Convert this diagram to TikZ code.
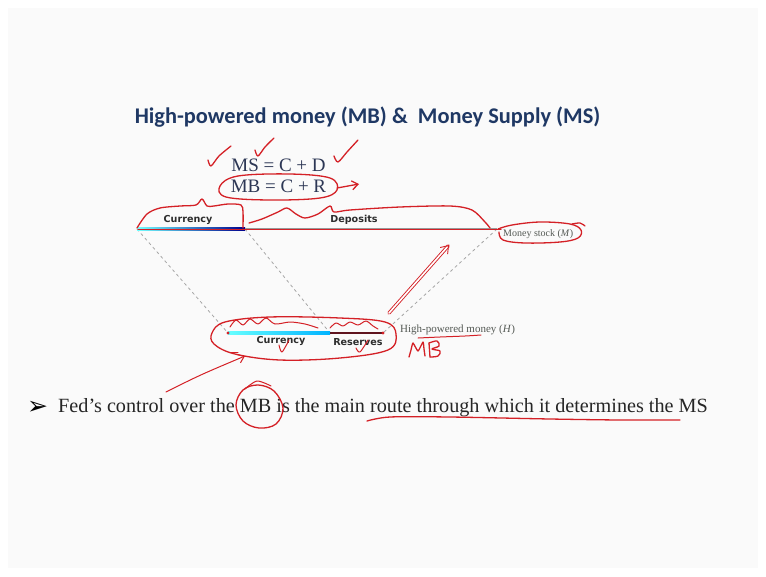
\documentclass[tikz,border=0pt]{standalone}
\usepackage{fontspec}
\setmainfont{Liberation Serif}
\newfontfamily\titlefont{Carlito}
\newfontfamily\labfont{DejaVu Sans}
\newfontfamily\symfont{DejaVu Sans}
\usetikzlibrary{arrows.meta}
\definecolor{titleblue}{RGB}{31,56,100}
\definecolor{eqcol}{RGB}{45,55,85}
\definecolor{pen}{RGB}{212,32,38}
\definecolor{labgray}{RGB}{45,45,45}
\definecolor{smallgray}{RGB}{85,90,85}
\definecolor{resbar}{RGB}{95,20,30}
\begin{document}
\begin{tikzpicture}[x=1pt,y=-1pt,
  ink/.style={draw=pen,line width=1.3pt,line cap=round,line join=round},
  barb/.style={-{Straight Barb[length=6pt,width=9pt]}},
  guide/.style={draw=black!35,line width=0.8pt,dash pattern=on 3pt off 3pt},
  barlab/.style={font=\labfont\bfseries\fontsize{9.6}{10}\selectfont,text=labgray,inner sep=1pt},
  smalllab/.style={font=\fontsize{10}{11}\selectfont,text=smallgray,inner sep=1pt,anchor=west},
  eq/.style={font=\fontsize{19}{21}\selectfont,text=eqcol,inner sep=1pt}]
\useasboundingbox (0,0) rectangle (766,576);
\fill[white] (0,0) rectangle (766,576);
\fill[black!2] (8,8) rectangle (758,568);

% title
\node[font=\titlefont\bfseries\fontsize{22.4}{26}\selectfont,text=titleblue] (title) at (367.5,117) {High-powered money (MB) \&\ \ Money Supply (MS)};

% equations
\node[eq] (ms) at (278.5,165) {MS = C + D};
\node[eq] (mb) at (278.5,186) {MB = C + R};

% coordinates of bars
\coordinate (tL) at (137,229);
\coordinate (tM) at (245,229);
\coordinate (tR) at (497,229);
\coordinate (bL) at (228,333);
\coordinate (bM) at (330,333);
\coordinate (bR) at (383,333);

% dashed guides
\draw[guide] (tL) -- (bL);
\draw[guide] (tM) -- (bM);
\draw[guide] (tR) -- (bR);

% top bar
\shade[left color=cyan!55,right color=blue!55!black] (137,227.8) rectangle (245,230.3);
\fill[black!40] (245,227.8) rectangle (497,230.3);
% bottom bar
\shade[left color=cyan!60,right color=cyan!70!blue] (228,331.6) rectangle (330,334.4);
\fill[resbar] (330,331.6) rectangle (383,334.4);

% labels
\node[barlab] (cur) at (188,220) {Currency};
\node[barlab] (dep) at (354,220) {Deposits};
\node[smalllab] (mstock) at (502,234) {Money stock (\textit{M})};
\node[barlab] (bcur) at (281,341) {Currency};
\node[barlab] (res) at (358,342) {Reserves};
\node[smalllab,font=\fontsize{11}{12}\selectfont] (hpm) at (399,330) {High-powered money (\textit{H})};

% bullet
\node[font=\symfont\fontsize{25}{27}\selectfont,anchor=west,inner sep=0pt] (bul) at (27,408) {➢};
\node[font=\fontsize{20.2}{23}\selectfont,anchor=west,inner sep=0pt,text=black!85] (fed) at (58,408) {Fed’s control over the MB is the main route through which it determines the MS};

% ---------- red pen annotations ----------
% check marks
\draw[ink] plot[smooth] coordinates {(208,160) (211,166) (219,156) (231,146)};
\draw[ink] plot[smooth] coordinates {(255,150) (258,156) (265,147) (274,138)};
\draw[ink] plot[smooth] coordinates {(334,156) (338,162) (347,152) (358,140)};
% ellipse around MB = C + R and arrow
\draw[ink] plot[smooth cycle,tension=0.6] coordinates {(220,186) (238,176) (290,174) (330,178) (337,190) (320,198) (270,200) (226,197)};
\coordinate (mbA) at (337,188);
\coordinate (mbB) at (359,184);
\draw[ink,barb] (mbA) -- (mbB);
% brace-like curve over Currency
\draw[ink] plot[smooth,tension=0.5] coordinates {(137,228) (147,214) (160,208) (180,206) (196,205) (202,199) (207,206) (214,206) (228,204) (241,205) (243,212) (243,228)};
% curve over Deposits
\draw[ink] plot[smooth,tension=0.5] coordinates {(249,223) (262,219) (278,212) (287,208) (296,214) (305,218) (318,214) (330,206) (334,212) (350,210) (400,207) (450,206) (472,210) (485,222) (490,228)};
% red line along top bar
\draw[ink] (138,229.5) -- (501,229.5);
% ellipse around Money stock
\draw[ink] plot[smooth,tension=0.6] coordinates {(498,229) (512,225) (540,222) (570,224) (581,230) (578,238) (560,242) (525,243) (503,240) (499,232)};
\draw[ink] plot[smooth] coordinates {(572,224) (580,223) (585,226)};
% double arrow to Money stock
\coordinate (dA) at (389,313);
\coordinate (dB) at (449,245);
\draw[ink,line width=0.9pt,double=white,double distance=1.6pt,-{Straight Barb[length=7pt,width=10pt]}] (dA) -- (dB);
% ellipse around bottom bar
\draw[ink] plot[smooth cycle,tension=0.6] coordinates {(212,333) (225,322) (270,317) (340,318) (385,322) (396,334) (388,350) (340,358) (280,360) (235,354) (214,344)};
% wavy marks over bottom bar
\draw[ink,line width=1pt] plot[smooth,tension=0.5] coordinates {(230,327) (236,320) (243,325) (250,319) (258,324) (266,318) (275,324) (290,322) (305,324) (318,328)};
\draw[ink,line width=1pt] plot[smooth,tension=0.5] coordinates {(330,328) (336,323) (343,326) (350,322) (358,325) (366,321) (373,326) (378,329)};
% small checks in bottom labels
\draw[ink,line width=1pt] plot[smooth] coordinates {(279,345) (282,352) (289,340)};
\draw[ink,line width=1pt] plot[smooth] coordinates {(356,348) (360,352) (368,340)};
% red dots at bottom bar ends
\fill[pen] (bL) circle (1.6pt);
\fill[pen] (bR) circle (1.6pt);
% handwritten MB
\draw[ink] plot[smooth,tension=0.3] coordinates {(409,357) (411,350) (413,343) (418,351) (423,342) (424,349) (425,356)};
\draw[ink] (429,343) -- (430,357);
\draw[ink] plot[smooth,tension=0.6] coordinates {(429,343) (437,341) (439,346) (432,349) (440,351) (438,356) (430,357)};
% underline under High-powered money
\draw[ink,line width=1pt] plot[smooth] coordinates {(418,338) (440,337) (465,336) (481,335)};
% arrow into bottom ellipse
\coordinate (aA) at (166,392);
\coordinate (aB) at (245,356);
\draw[ink,line width=1pt,barb] (aA) .. controls (200,375) .. (aB);
\draw[ink,line width=1pt] (231,352) -- (238,352);
% circle around MB in bullet
\draw[ink] plot[smooth cycle,tension=0.6] coordinates {(258,385) (274,391) (283,408) (276,424) (259,428) (243,421) (236,405) (243,390)};
\draw[ink,line width=1pt] plot[smooth] coordinates {(245,389) (257,381) (271,386)};
% underline under "route ... the"
\draw[ink] plot[smooth] coordinates {(367,421) (390,417) (450,417) (550,419) (620,420) (680,420)};
\end{tikzpicture}
\end{document}
